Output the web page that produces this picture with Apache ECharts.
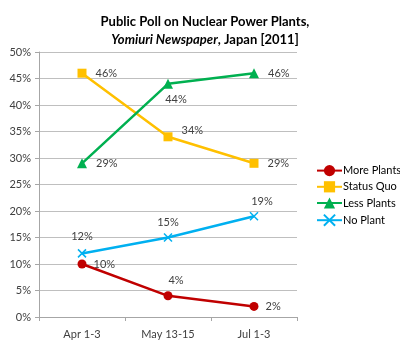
<!DOCTYPE html>
<html>
<head>
<meta charset="utf-8">
<script src="https://cdn.jsdelivr.net/npm/echarts@6/dist/echarts.min.js"></script>
<style>
  html, body { margin: 0; padding: 0; background: #fff; }
  #chart { width: 400px; height: 351px; }
</style>
</head>
<body>
<div id="chart"></div>
<script>
// poll data, percent
var categories = ['Apr 1-3', 'May 13-15', 'Jul 1-3'];
var morePlants = [10, 4, 2];
var statusQuo = [46, 34, 29];
var lessPlants = [29, 44, 46];
var noPlant = [12, 15, 19];
var yTicks = [0, 5, 10, 15, 20, 25, 30, 35, 40, 45, 50];

var font = 'Lato';
var lbl = function (pos, dx, dy) {
  return { show: true, position: pos, offset: [dx || 0, dy || 0], formatter: '{c}%', color: '#404040', fontSize: 11, fontFamily: font };
};
function withLabels(vals, labels) {
  return vals.map(function (v, i) { return { value: v, label: labels[i] }; });
}

var chart = echarts.init(document.getElementById('chart'));
chart.setOption({
  animation: false,
  textStyle: { fontFamily: font },
  title: {
    text: 'Public Poll on Nuclear Power Plants,\n{i|Yomiuri Newspaper}, Japan [2011]',
    left: 200, top: 8, textAlign: 'center',
    textStyle: {
      fontSize: 13, fontWeight: 'bold', color: '#000', lineHeight: 18, fontFamily: font,
      rich: { i: { fontStyle: 'italic', fontWeight: 'bold', fontSize: 13, fontFamily: font } }
    }
  },
  legend: {
    orient: 'vertical', left: 311, top: 160, itemGap: 5, itemWidth: 25, itemHeight: 14,
    textStyle: { fontSize: 11, color: '#000', fontFamily: font, padding: [0, 0, 0, -4] },
    data: ['More Plants', 'Status Quo', 'Less Plants', 'No Plant']
  },
  grid: { left: 39, right: 103, top: 52, bottom: 34 },
  xAxis: {
    type: 'category', data: categories, boundaryGap: true,
    axisLine: { lineStyle: { color: '#a6a6a6' } },
    axisTick: { show: true, length: 4, lineStyle: { color: '#a6a6a6' } },
    axisLabel: { color: '#404040', fontSize: 11, margin: 12 }
  },
  yAxis: {
    type: 'value', min: yTicks[0], max: yTicks[yTicks.length - 1], interval: 5,
    axisLine: { show: true, lineStyle: { color: '#a6a6a6' } },
    axisTick: { show: true, length: 4, lineStyle: { color: '#a6a6a6' } },
    axisLabel: { formatter: '{value}%', color: '#404040', fontSize: 11, margin: 8 },
    splitLine: { lineStyle: { color: '#bfbfbf' } }
  },
  series: [
    {
      name: 'More Plants', type: 'line', data: withLabels(morePlants, [lbl('right', 2, 0), lbl('top', 8, 0), lbl('right', 2, 0)]),
      color: '#c00000', symbol: 'circle', symbolSize: 9, lineStyle: { width: 2.5 }
    },
    {
      name: 'Status Quo', type: 'line', data: withLabels(statusQuo, [lbl('right', 4, 0), lbl('right', 4, -6), lbl('right', 4, 0)]),
      color: '#ffc000', symbol: 'rect', symbolSize: 9, lineStyle: { width: 2.5 }
    },
    {
      name: 'Less Plants', type: 'line', data: withLabels(lessPlants, [lbl('right', 4, 0), lbl('bottom', 8, 0), lbl('right', 4, 0)]),
      color: '#00b050', symbol: 'triangle', symbolSize: 10, lineStyle: { width: 2.5 }
    },
    {
      name: 'No Plant', type: 'line', data: withLabels(noPlant, [lbl('top', 0, -2), lbl('top', 0, 0), lbl('top', 8, 0)]),
      color: '#00b0f0', symbol: 'path://M0,0L10,10M10,0L0,10', symbolSize: 8,
      itemStyle: { borderColor: '#00b0f0', borderWidth: 1.5 }, lineStyle: { width: 2.5 }
    }
  ]
});
</script>
</body>
</html>
